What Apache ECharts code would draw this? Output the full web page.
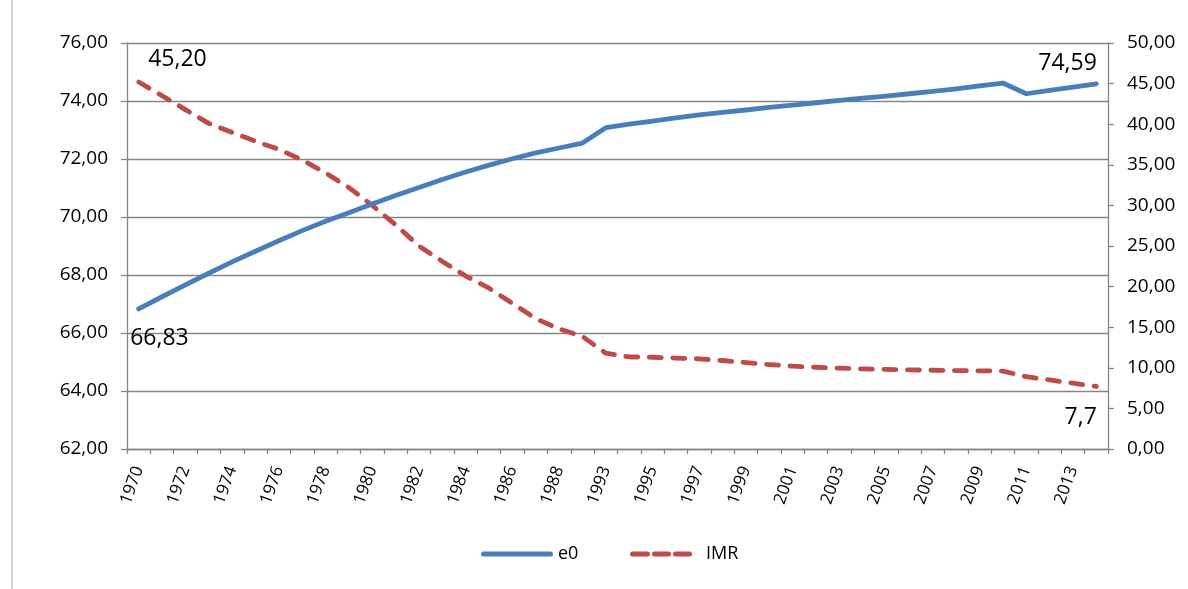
<!DOCTYPE html>
<html>
<head>
<meta charset="utf-8">
<title>e0 / IMR</title>
<script src="https://cdn.jsdelivr.net/npm/echarts@6/dist/echarts.min.js"></script>
<style>
  html, body { margin: 0; padding: 0; background: #ffffff; }
  #chart { width: 1188px; height: 589px; }
</style>
</head>
<body>
<div id="chart"></div>
<script>
// Years on the category axis (1989-1992 are not in the series)
const years = [
  '1970','1971','1972','1973','1974','1975','1976','1977','1978','1979',
  '1980','1981','1982','1983','1984','1985','1986','1987','1988','1990',
  '1993','1994','1995','1996','1997','1998','1999','2000','2001','2002',
  '2003','2004','2005','2006','2007','2008','2009','2010','2011','2012',
  '2013','2014'
];

// Life expectancy at birth (left axis)
const e0 = [
  66.83, 67.25, 67.66, 68.06, 68.45, 68.82, 69.18, 69.53, 69.85, 70.15,
  70.45, 70.74, 71.02, 71.29, 71.55, 71.79, 72.01, 72.21, 72.38, 72.55,
  73.08, 73.20, 73.31, 73.42, 73.52, 73.61, 73.69, 73.78, 73.86, 73.94,
  74.02, 74.10, 74.17, 74.25, 74.33, 74.42, 74.52, 74.62, 74.25, 74.37,
  74.48, 74.59
];

// Infant mortality rate (right axis)
const imr = [
  45.20, 43.50, 41.80, 40.10, 39.00, 37.90, 36.90, 35.60, 34.00, 32.20,
  30.00, 27.60, 25.00, 23.10, 21.30, 19.80, 17.95, 16.05, 14.80, 13.85,
  11.80, 11.35, 11.30, 11.20, 11.10, 10.90, 10.65, 10.40, 10.20, 10.07,
  9.95, 9.87, 9.80, 9.75, 9.70, 9.66, 9.63, 9.60, 8.90, 8.50,
  8.10, 7.70
];

// Axis tick values
const leftTicks = { min: 62, max: 76, step: 2 };
const rightTicks = { min: 0, max: 50, step: 5 };

const FONT = 'Open Sans';
const GRID_COLOR = '#868686';
const BLUE = '#4A7EBB';
const RED = '#BE4B48';

const comma = (v, d) => v.toFixed(d).replace('.', ',');

// Attach value labels to the first and last point of a series
function withEndLabels(values, first, last) {
  return values.map((v, i) => {
    const cfg = i === 0 ? first : (i === values.length - 1 ? last : null);
    if (!cfg) return v;
    return {
      value: v,
      symbol: 'circle',
      symbolSize: 1,
      label: {
        show: true,
        position: cfg.position,
        align: cfg.align,
        verticalAlign: 'middle',
        fontFamily: FONT,
        fontSize: 23,
        color: '#000',
        formatter: () => comma(v, cfg.digits)
      }
    };
  });
}

// Legend keys: a solid bar and a three-dash bar
const solidKey = 'path://M2.5,0H69.5A2.5,2.5 0 0 1 69.5,5H2.5A2.5,2.5 0 0 1 2.5,0Z';
const dashKey = 'path://M2.5,0H17.5A2.5,2.5 0 0 1 17.5,5H2.5A2.5,2.5 0 0 1 2.5,0Z' +
  'M24.5,0H38.5A2.5,2.5 0 0 1 38.5,5H24.5A2.5,2.5 0 0 1 24.5,0Z' +
  'M45.5,0H59.5A2.5,2.5 0 0 1 59.5,5H45.5A2.5,2.5 0 0 1 45.5,0Z';

const legendText = { fontFamily: FONT, fontSize: 18, color: '#000' };

const chart = echarts.init(document.getElementById('chart'), null, { renderer: 'canvas' });

chart.setOption({
  animation: false,
  backgroundColor: '#ffffff',
  grid: { left: 127, right: 80, top: 43, bottom: 140, containLabel: false, outerBoundsMode: 'none' },
  graphic: [{
    type: 'line',
    shape: { x1: 12, y1: 0, x2: 12, y2: 589 },
    style: { stroke: '#a6a6a6', lineWidth: 1 }
  }],
  legend: [
    {
      data: [{ name: 'e0', icon: solidKey }], left: 481, top: 545, padding: 0,
      itemWidth: 72, itemHeight: 5,
      textStyle: legendText
    },
    {
      data: [{ name: 'IMR', icon: dashKey }], left: 630, top: 545, padding: 0,
      itemWidth: 62, itemHeight: 5,
      textStyle: Object.assign({ padding: [0, 0, 0, 9] }, legendText)
    }
  ],
  xAxis: {
    type: 'category',
    data: years,
    boundaryGap: true,
    axisLine: { lineStyle: { color: GRID_COLOR, width: 1.3 } },
    axisTick: { show: true, interval: 0, length: 5, lineStyle: { color: GRID_COLOR, width: 1.3 } },
    axisLabel: {
      interval: 1, rotate: 70, margin: 18,
      fontFamily: FONT, fontSize: 17, color: '#000'
    },
    splitLine: { show: false }
  },
  yAxis: [
    {
      type: 'value', position: 'left',
      min: leftTicks.min, max: leftTicks.max, interval: leftTicks.step,
      axisLine: { show: true, lineStyle: { color: GRID_COLOR, width: 1.3 } },
      axisTick: { show: true, length: 6, lineStyle: { color: GRID_COLOR, width: 1.3 } },
      axisLabel: {
        margin: 19, fontFamily: FONT, fontSize: 19, color: '#000',
        formatter: v => comma(v, 2)
      },
      splitLine: { show: true, lineStyle: { color: GRID_COLOR, width: 1.3 } }
    },
    {
      type: 'value', position: 'right',
      min: rightTicks.min, max: rightTicks.max, interval: rightTicks.step,
      axisLine: { show: true, lineStyle: { color: GRID_COLOR, width: 1.3 } },
      axisTick: { show: true, length: 6, lineStyle: { color: GRID_COLOR, width: 1.3 } },
      axisLabel: {
        margin: 19, fontFamily: FONT, fontSize: 19, color: '#000',
        formatter: v => comma(v, 2)
      },
      splitLine: { show: false }
    }
  ],
  series: [
    {
      name: 'e0',
      type: 'line',
      yAxisIndex: 0,
      symbol: 'none',
      color: BLUE,
      lineStyle: { color: BLUE, width: 4.8, cap: 'round', join: 'round' },
      itemStyle: { color: BLUE },
      z: 3,
      data: withEndLabels(e0,
        { position: [-8, 30], align: 'left', digits: 2 },
        { position: [1, -20], align: 'right', digits: 2 })
    },
    {
      name: 'IMR',
      type: 'line',
      yAxisIndex: 1,
      symbol: 'none',
      color: RED,
      lineStyle: { color: RED, width: 4.8, type: [12, 11.5], cap: 'round', join: 'round' },
      itemStyle: { color: RED },
      z: 2,
      data: withEndLabels(imr,
        { position: [10, -22], align: 'left', digits: 2 },
        { position: [1, 31], align: 'right', digits: 1 })
    }
  ]
});
</script>
</body>
</html>
